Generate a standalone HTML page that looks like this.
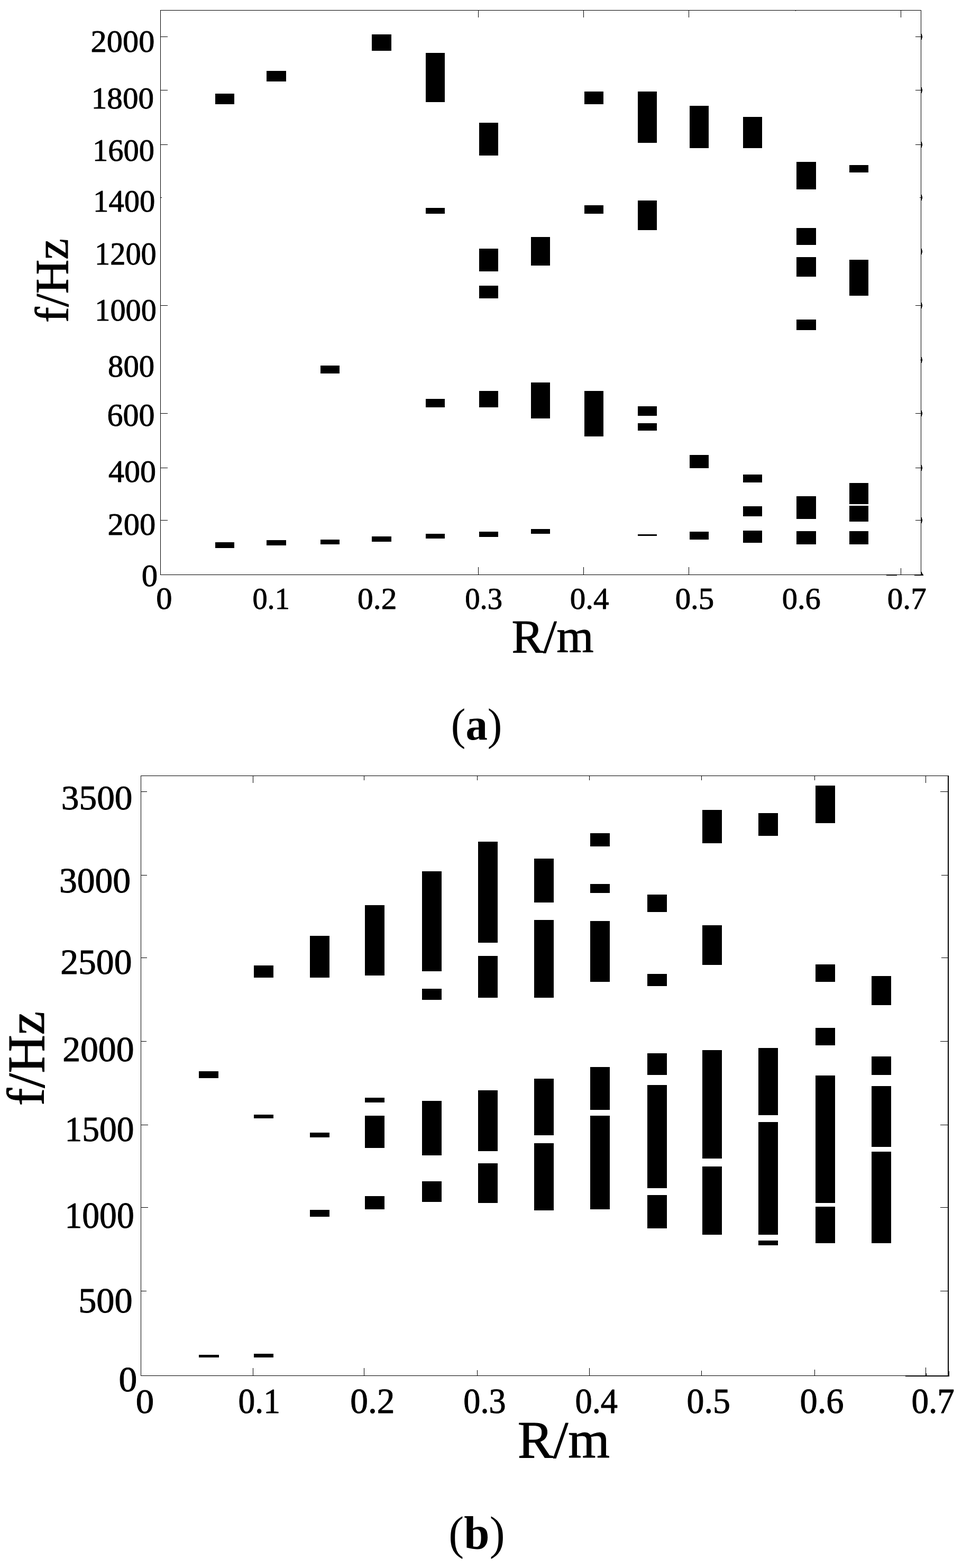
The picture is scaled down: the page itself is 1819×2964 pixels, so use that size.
<!DOCTYPE html>
<html lang="en"><head><meta charset="utf-8"><title>Band gap figures</title>
<style>
html,body{margin:0;padding:0;background:#fff;}
body{width:1819px;height:2964px;overflow:hidden;}
svg{display:block;}
text{font-family:"Liberation Serif","DejaVu Serif",serif;fill:#000;stroke:#000;stroke-linejoin:round;text-anchor:middle;}
</style></head><body>
<svg width="1819" height="2964" viewBox="0 0 1819 2964">
<rect x="0" y="0" width="1819" height="2964" fill="#fff"/>
<g id="plot-a">
<g fill="#000" shape-rendering="crispEdges">
<rect x="303" y="19" width="1439" height="1"/>
<rect x="303" y="1086" width="1439" height="1"/>
<rect x="303" y="19" width="1" height="1068"/>
<rect x="1741" y="19" width="1" height="1068"/>
</g>
<g fill="#000" shape-rendering="crispEdges">
<rect x="303" y="69" width="14" height="1"/>
<rect x="1731" y="69" width="11" height="1"/>
<rect x="1742" y="64" width="1" height="11"/>
<rect x="1743" y="67" width="1" height="5"/>
<rect x="303" y="170" width="14" height="1"/>
<rect x="1731" y="170" width="11" height="1"/>
<rect x="1742" y="165" width="1" height="11"/>
<rect x="1743" y="168" width="1" height="5"/>
<rect x="303" y="273" width="14" height="1"/>
<rect x="1731" y="273" width="11" height="1"/>
<rect x="1742" y="268" width="1" height="11"/>
<rect x="1743" y="271" width="1" height="5"/>
<rect x="303" y="373" width="3" height="1"/>
<rect x="1739" y="373" width="3" height="1"/>
<rect x="1742" y="368" width="1" height="11"/>
<rect x="1743" y="371" width="1" height="5"/>
<rect x="1742" y="470" width="1" height="11"/>
<rect x="1743" y="473" width="1" height="5"/>
<rect x="303" y="577" width="14" height="1"/>
<rect x="1731" y="577" width="11" height="1"/>
<rect x="1742" y="572" width="1" height="11"/>
<rect x="1743" y="575" width="1" height="5"/>
<rect x="1740" y="680" width="2" height="1"/>
<rect x="1742" y="675" width="1" height="11"/>
<rect x="1743" y="678" width="1" height="5"/>
<rect x="303" y="781" width="14" height="1"/>
<rect x="1731" y="781" width="11" height="1"/>
<rect x="1742" y="776" width="1" height="11"/>
<rect x="1743" y="779" width="1" height="5"/>
<rect x="303" y="884" width="14" height="1"/>
<rect x="1731" y="884" width="11" height="1"/>
<rect x="1742" y="879" width="1" height="11"/>
<rect x="1743" y="882" width="1" height="5"/>
<rect x="303" y="983" width="14" height="1"/>
<rect x="1731" y="983" width="11" height="1"/>
<rect x="1742" y="978" width="1" height="11"/>
<rect x="1743" y="981" width="1" height="5"/>
<rect x="904" y="19" width="1" height="14"/>
<rect x="904" y="1072" width="1" height="15"/>
<rect x="1103" y="19" width="1" height="14"/>
<rect x="1103" y="1072" width="1" height="15"/>
<rect x="1302" y="19" width="1" height="14"/>
<rect x="1302" y="1072" width="1" height="15"/>
<rect x="1504" y="19" width="1" height="2"/>
<rect x="1703" y="19" width="1" height="14"/>
<rect x="1703" y="1074" width="1" height="13"/>
</g>
<g fill="#000" shape-rendering="crispEdges">
<rect x="407" y="177" width="36" height="20"/>
<rect x="407" y="1025" width="36" height="11"/>
<rect x="504" y="134" width="37" height="20"/>
<rect x="504" y="1021" width="37" height="10"/>
<rect x="606" y="691" width="36" height="15"/>
<rect x="606" y="1019.5" width="36" height="9.5"/>
<rect x="703" y="65" width="37" height="31"/>
<rect x="703" y="1013.5" width="37" height="10.5"/>
<rect x="805" y="100" width="36" height="93"/>
<rect x="805" y="393" width="36" height="11"/>
<rect x="805" y="754" width="36" height="16"/>
<rect x="805" y="1008.5" width="36" height="9.5"/>
<rect x="906" y="232" width="36" height="62"/>
<rect x="906" y="469.5" width="36" height="43.5"/>
<rect x="906" y="540" width="36" height="24"/>
<rect x="906" y="739" width="36" height="31"/>
<rect x="906" y="1005" width="36" height="10"/>
<rect x="1004" y="448" width="36" height="54"/>
<rect x="1004" y="723" width="36" height="68"/>
<rect x="1004" y="999.5" width="36" height="9"/>
<rect x="1105" y="173" width="36" height="24"/>
<rect x="1105" y="388" width="36" height="16"/>
<rect x="1105" y="739" width="36" height="86"/>
<rect x="1206" y="173" width="36" height="96.5"/>
<rect x="1206" y="379" width="36" height="55.5"/>
<rect x="1206" y="768" width="36" height="18"/>
<rect x="1206" y="800" width="36" height="14"/>
<rect x="1206" y="1009.5" width="36" height="3.5"/>
<rect x="1304" y="200" width="36" height="80"/>
<rect x="1304" y="860" width="36" height="25"/>
<rect x="1304" y="1004.5" width="36" height="15.5"/>
<rect x="1405" y="221" width="36" height="59"/>
<rect x="1405" y="897" width="36" height="15"/>
<rect x="1405" y="957" width="36" height="19"/>
<rect x="1405" y="1003" width="36" height="22.5"/>
<rect x="1506" y="306" width="37" height="52"/>
<rect x="1506" y="430.5" width="37" height="32.5"/>
<rect x="1506" y="485.5" width="37" height="37.5"/>
<rect x="1506" y="604" width="37" height="20"/>
<rect x="1506" y="938" width="37" height="43"/>
<rect x="1506" y="1004" width="37" height="25"/>
<rect x="1606" y="312" width="36" height="14"/>
<rect x="1606" y="491" width="36" height="68"/>
<rect x="1606" y="913" width="36" height="40"/>
<rect x="1606" y="956" width="36" height="30"/>
<rect x="1606" y="1004" width="36" height="25"/>
</g>
<g fill="#000" shape-rendering="crispEdges">
<rect x="1676" y="1086" width="20" height="2"/>
<rect x="1729" y="1086" width="17" height="2"/>
<rect x="1742" y="1081" width="1" height="5"/>
<rect x="1743" y="1083" width="1" height="3"/>
<rect x="1744" y="1085" width="1" height="1"/>
</g>
</g>
<g id="plot-b">
<g fill="#000" shape-rendering="crispEdges">
<rect x="266" y="1466" width="1527" height="1"/>
<rect x="266" y="2600" width="1527" height="1"/>
<rect x="266" y="1466" width="1" height="1135"/>
<rect x="1792" y="1466" width="1" height="1135"/>
</g>
<g fill="#000" shape-rendering="crispEdges">
<rect x="266" y="1496" width="12" height="1"/>
<rect x="1778" y="1496" width="15" height="1"/>
<rect x="266" y="1654" width="12" height="1"/>
<rect x="1780" y="1654" width="13" height="1"/>
<rect x="266" y="1810" width="12" height="1"/>
<rect x="1780" y="1810" width="13" height="1"/>
<rect x="266" y="1968" width="11" height="1"/>
<rect x="1778" y="1968" width="15" height="1"/>
<rect x="266" y="2126" width="14" height="1"/>
<rect x="1778" y="2126" width="15" height="1"/>
<rect x="266" y="2282" width="14" height="1"/>
<rect x="1778" y="2282" width="15" height="1"/>
<rect x="266" y="2440" width="11" height="1"/>
<rect x="1778" y="2440" width="15" height="1"/>
<rect x="478" y="1466" width="1" height="14"/>
<rect x="478" y="2586" width="1" height="15"/>
<rect x="688" y="1466" width="1" height="9"/>
<rect x="688" y="2586" width="1" height="15"/>
<rect x="902" y="1466" width="1" height="9"/>
<rect x="902" y="2590" width="1" height="11"/>
<rect x="1114" y="1466" width="1" height="9"/>
<rect x="1114" y="2586" width="1" height="15"/>
<rect x="1326" y="1466" width="1" height="9"/>
<rect x="1326" y="2591" width="1" height="10"/>
<rect x="1540" y="1466" width="1" height="9"/>
<rect x="1540" y="2589" width="1" height="12"/>
<rect x="1750" y="1466" width="1" height="14"/>
<rect x="1750" y="2585" width="1" height="16"/>
</g>
<g fill="#000" shape-rendering="crispEdges">
<rect x="376" y="2024.5" width="37" height="13.5"/>
<rect x="376" y="2561" width="38" height="5"/>
<rect x="480" y="1825" width="37" height="23"/>
<rect x="480" y="2106.5" width="37" height="7.5"/>
<rect x="480" y="2558.5" width="37" height="7.5"/>
<rect x="586" y="1769" width="37" height="79"/>
<rect x="586" y="2140.5" width="37" height="9.5"/>
<rect x="586" y="2287" width="37" height="13"/>
<rect x="690" y="1711" width="37" height="133"/>
<rect x="690" y="2075" width="37" height="9"/>
<rect x="690" y="2109" width="37" height="61"/>
<rect x="690" y="2261" width="37" height="25"/>
<rect x="798" y="1647" width="37" height="189"/>
<rect x="798" y="1869" width="37" height="21"/>
<rect x="798" y="2081" width="37" height="103"/>
<rect x="798" y="2233" width="37" height="39"/>
<rect x="904" y="1591" width="37" height="191"/>
<rect x="904" y="1807" width="37" height="79"/>
<rect x="904" y="2061" width="37" height="115"/>
<rect x="904" y="2199" width="37" height="75"/>
<rect x="1010" y="1623" width="37" height="83"/>
<rect x="1010" y="1739" width="37" height="147"/>
<rect x="1010" y="2039" width="37" height="107"/>
<rect x="1010" y="2161" width="37" height="127"/>
<rect x="1116" y="1575" width="37" height="25"/>
<rect x="1116" y="1671" width="37" height="17"/>
<rect x="1116" y="1741" width="37" height="115"/>
<rect x="1116" y="2017" width="37" height="81"/>
<rect x="1116" y="2109" width="37" height="177"/>
<rect x="1224" y="1691" width="37" height="33"/>
<rect x="1224" y="1841" width="37" height="23"/>
<rect x="1224" y="1991" width="37" height="41"/>
<rect x="1224" y="2051" width="37" height="195"/>
<rect x="1224" y="2259" width="37" height="63"/>
<rect x="1328" y="1531" width="37" height="63"/>
<rect x="1328" y="1749" width="37" height="75"/>
<rect x="1328" y="1985" width="37" height="205"/>
<rect x="1328" y="2205" width="37" height="129"/>
<rect x="1434" y="1537" width="37" height="43"/>
<rect x="1434" y="1981" width="37" height="127"/>
<rect x="1434" y="2121" width="37" height="213"/>
<rect x="1434" y="2345" width="37" height="9"/>
<rect x="1542" y="1485" width="37" height="71"/>
<rect x="1542" y="1823" width="37" height="33"/>
<rect x="1542" y="1943" width="37" height="33"/>
<rect x="1542" y="2033" width="37" height="241"/>
<rect x="1542" y="2281" width="37" height="69"/>
<rect x="1648" y="1845" width="37" height="55"/>
<rect x="1648" y="1997" width="37" height="35"/>
<rect x="1648" y="2053" width="37" height="115"/>
<rect x="1648" y="2177" width="37" height="173"/>
</g>
<g fill="#000" shape-rendering="crispEdges">
<rect x="1712" y="2600" width="83" height="2"/>
<rect x="1792" y="1466" width="2" height="1136"/>
<rect x="1794" y="2592" width="1" height="10"/>
<rect x="1751" y="2596" width="1" height="5"/>
</g>
</g>
<g id="labels">
<text transform="translate(231.98,98.04) scale(1.0233,1.0027)" font-size="59" stroke-width="0.9">2000</text>
<text transform="translate(231.92,204.81) scale(1.0022,0.9744)" font-size="59" stroke-width="0.9">1800</text>
<text transform="translate(233.45,304.19) scale(0.9916,0.9992)" font-size="59" stroke-width="0.9">1600</text>
<text transform="translate(234.75,400.05) scale(0.9941,1.0165)" font-size="59" stroke-width="0.9">1400</text>
<text transform="translate(237.41,500.40) scale(0.9890,1.0343)" font-size="59" stroke-width="0.9">1200</text>
<text transform="translate(237.58,606.17) scale(0.9871,0.9992)" font-size="59" stroke-width="0.9">1000</text>
<text transform="translate(248.15,712.03) scale(0.9963,1.0025)" font-size="59" stroke-width="0.9">800</text>
<text transform="translate(247.41,805.28) scale(1.0174,1.0353)" font-size="59" stroke-width="0.9">600</text>
<text transform="translate(249.93,911.30) scale(1.0177,1.0197)" font-size="59" stroke-width="0.9">400</text>
<text transform="translate(248.85,1010.73) scale(1.0274,1.0169)" font-size="59" stroke-width="0.9">200</text>
<text transform="translate(283.04,1107.98) scale(1.0331,1.0021)" font-size="59" stroke-width="0.9">0</text>
<text transform="translate(310.33,1150.94) scale(1.0277,0.9880)" font-size="59" stroke-width="0.9">0</text>
<text transform="translate(512.63,1150.50) scale(0.9549,0.9731)" font-size="59" stroke-width="0.9">0.1</text>
<text transform="translate(713.22,1150.80) scale(1.0067,0.9765)" font-size="59" stroke-width="0.9">0.2</text>
<text transform="translate(914.69,1150.95) scale(0.9622,0.9714)" font-size="59" stroke-width="0.9">0.3</text>
<text transform="translate(1114.55,1150.95) scale(1.0011,0.9725)" font-size="59" stroke-width="0.9">0.4</text>
<text transform="translate(1313.47,1150.81) scale(0.9980,0.9743)" font-size="59" stroke-width="0.9">0.5</text>
<text transform="translate(1515.22,1150.95) scale(0.9914,0.9713)" font-size="59" stroke-width="0.9">0.6</text>
<text transform="translate(1714.76,1150.95) scale(1.0009,0.9725)" font-size="59" stroke-width="0.9">0.7</text>
<text transform="translate(183.19,1530.38) scale(0.9908,0.9751)" font-size="68" stroke-width="1">3500</text>
<text transform="translate(179.55,1687.45) scale(0.9947,0.9913)" font-size="68" stroke-width="1">3000</text>
<text transform="translate(181.82,1840.90) scale(0.9945,0.9827)" font-size="68" stroke-width="1">2500</text>
<text transform="translate(185.85,2005.95) scale(0.9959,0.9913)" font-size="68" stroke-width="1">2000</text>
<text transform="translate(187.98,2157.45) scale(0.9633,0.9913)" font-size="68" stroke-width="1">1500</text>
<text transform="translate(188.12,2320.91) scale(0.9642,1.0160)" font-size="68" stroke-width="1">1000</text>
<text transform="translate(199.42,2481.00) scale(1.0051,1.0000)" font-size="68" stroke-width="1">500</text>
<text transform="translate(241.92,2630.06) scale(1.0231,0.9976)" font-size="68" stroke-width="1">0</text>
<text transform="translate(273.84,2671.14) scale(1.0114,0.9631)" font-size="68" stroke-width="1">0</text>
<text transform="translate(490.27,2670.95) scale(0.9338,0.9835)" font-size="68" stroke-width="1">0.1</text>
<text transform="translate(704.37,2670.91) scale(0.9899,0.9831)" font-size="68" stroke-width="1">0.2</text>
<text transform="translate(916.41,2670.91) scale(0.9443,0.9830)" font-size="68" stroke-width="1">0.3</text>
<text transform="translate(1127.81,2670.90) scale(0.9469,0.9827)" font-size="68" stroke-width="1">0.4</text>
<text transform="translate(1339.77,2671.39) scale(0.9684,0.9827)" font-size="68" stroke-width="1">0.5</text>
<text transform="translate(1554.02,2670.90) scale(0.9777,0.9827)" font-size="68" stroke-width="1">0.6</text>
<text transform="translate(1764.16,2670.90) scale(0.9570,0.9827)" font-size="68" stroke-width="1">0.7</text>
<text transform="translate(1045.08,1233.00) scale(1.0237,1.0000)" font-size="88" stroke-width="1">R/m</text>
<text transform="translate(1065.87,2755.00) scale(1.0120,1.0000)" font-size="100" stroke-width="1">R/m</text>
<text transform="translate(127.57,530.42) rotate(-90) scale(1.0169,1.0134)" font-size="88" stroke-width="1">f/Hz</text>
<text transform="translate(83.15,2000.90) rotate(-90) scale(1.0054,0.9979)" font-size="100" stroke-width="1">f/Hz</text>
<text transform="translate(901.13,1397.73) scale(0.9875,1.0184)" font-size="84" stroke-width="0">(<tspan font-weight="bold">a</tspan>)</text>
<text transform="translate(901.47,2927.85) scale(0.9874,1.0024)" font-size="88" stroke-width="0">(<tspan font-weight="bold">b</tspan>)</text>
</g>
</svg></body></html>
